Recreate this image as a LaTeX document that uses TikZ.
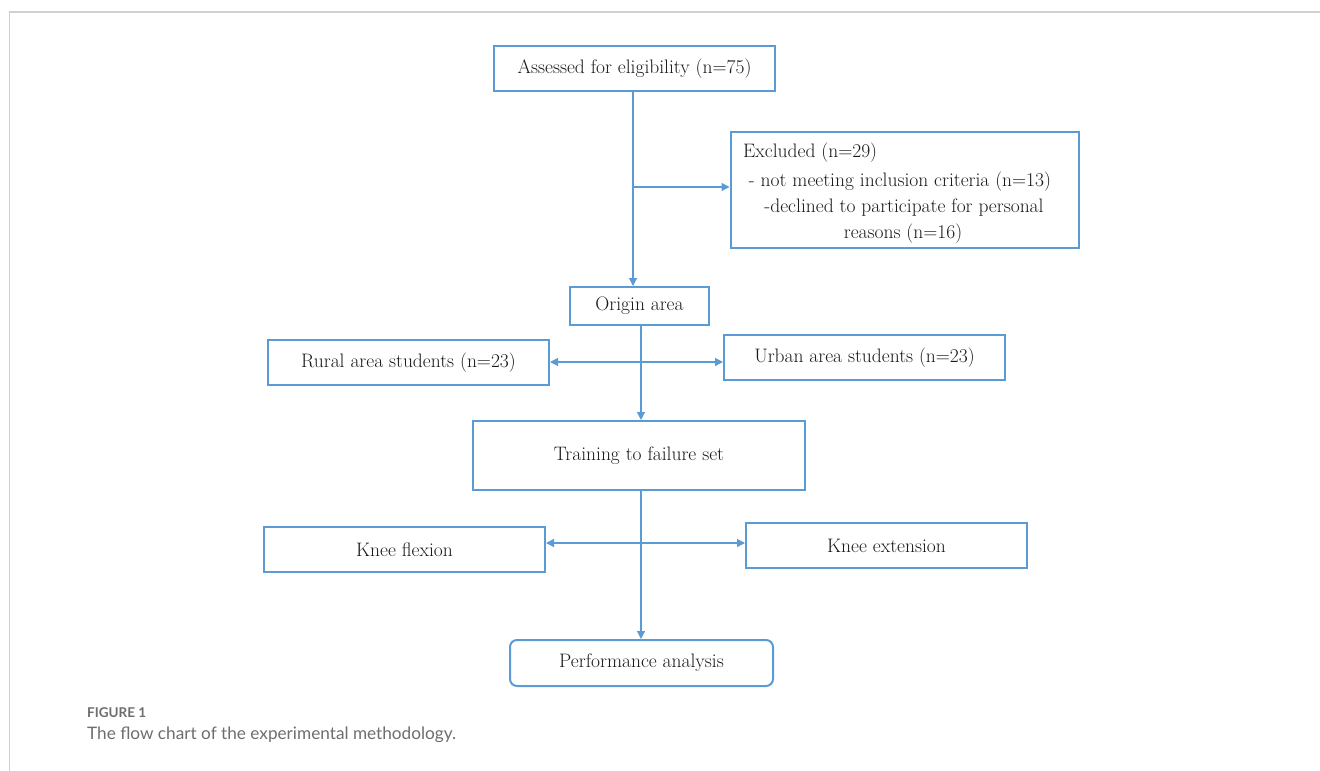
\documentclass[tikz,border=0pt]{standalone}
\usepackage{fontspec}
\newfontfamily\capfont{Lato}
\usetikzlibrary{arrows.meta}
\definecolor{boxblue}{HTML}{5B9BD5}
\definecolor{capgray}{HTML}{6E6E6E}
\definecolor{framegray}{HTML}{D0D0D0}
\definecolor{txt}{HTML}{1A1A1A}
\tikzset{
  box/.style={draw=boxblue, line width=2pt, fill=white, inner sep=0pt, text=txt, font=\fontsize{19.5}{23}\selectfont},
  ltxt/.style={inner sep=0pt, text=txt, font=\fontsize{19.5}{23}\selectfont},
  conn/.style={draw=boxblue, line width=1.2pt, -{Triangle[length=8pt,width=8pt]}},
  dconn/.style={draw=boxblue, line width=1.2pt, {Triangle[length=8pt,width=8pt]}-{Triangle[length=8pt,width=8pt]}},
}
\begin{document}
\begin{tikzpicture}[x=1pt,y=-1pt]
\useasboundingbox (0,0) rectangle (1320,771);
\fill[white] (0,0) rectangle (1320,771);
\draw[framegray, line width=1.5pt] (9,12) -- (1320,12);
\draw[framegray, line width=1pt] (9,12) -- (9,771);

\node[box, minimum width=281pt, minimum height=45pt] (assess) at (634.5,68.5) {Assessed for eligibility (n=75)};
\node[box, minimum width=348pt, minimum height=116pt] (excl) at (904.5,190) {};
\node[ltxt, anchor=west] (e1) at (743,153) {Excluded (n=29)};
\node[ltxt] (e2) at (900,182) {- not meeting inclusion criteria (n=13)};
\node[ltxt] (e3) at (904,208) {-declined to participate for personal};
\node[ltxt] (e4) at (903,234) {reasons (n=16)};
\node[box, minimum width=139pt, minimum height=38pt] (origin) at (639.5,306) {Origin area};
\node[box, minimum width=281pt, minimum height=45pt] (rural) at (408.5,362.5) {Rural area students (n=23)};
\node[box, minimum width=281pt, minimum height=45pt] (urban) at (864.5,357.5) {Urban area students (n=23)};
\node[box, minimum width=332pt, minimum height=69pt] (train) at (639,455.5) {Training to failure set};
\node[box, minimum width=281pt, minimum height=45pt] (flex) at (404.5,549.5) {Knee flexion};
\node[box, minimum width=281pt, minimum height=45pt] (ext) at (886.5,545.5) {Knee extension};
\node[box, rounded corners=7pt, minimum width=263pt, minimum height=46pt] (perf) at (641.5,663) {Performance analysis};

\coordinate (b1) at (633,187);
\draw[conn] (assess.south -| b1) -- (b1 |- origin.north);
\draw[conn] (b1) -- (b1 -| excl.west);
\coordinate (b2) at (641,362);
\draw[conn] (origin.south -| b2) -- (b2 |- train.north);
\draw[dconn] (b2 -| rural.east) -- (b2 -| urban.west);
\coordinate (b3) at (641,543);
\draw[conn] (train.south -| b3) -- (b3 |- perf.north);
\draw[dconn] (b3 -| flex.east) -- (b3 -| ext.west);

\node[anchor=base west, inner sep=0pt, text=capgray, font=\capfont\bfseries\fontsize{13.5}{16}\selectfont] (fig) at (87,717) {FIGURE 1};
\node[anchor=base west, inner sep=0pt, text=capgray, font=\capfont\fontsize{17.2}{20}\selectfont] (cap) at (87,739) {The flow chart of the experimental methodology.};
\end{tikzpicture}
\end{document}
